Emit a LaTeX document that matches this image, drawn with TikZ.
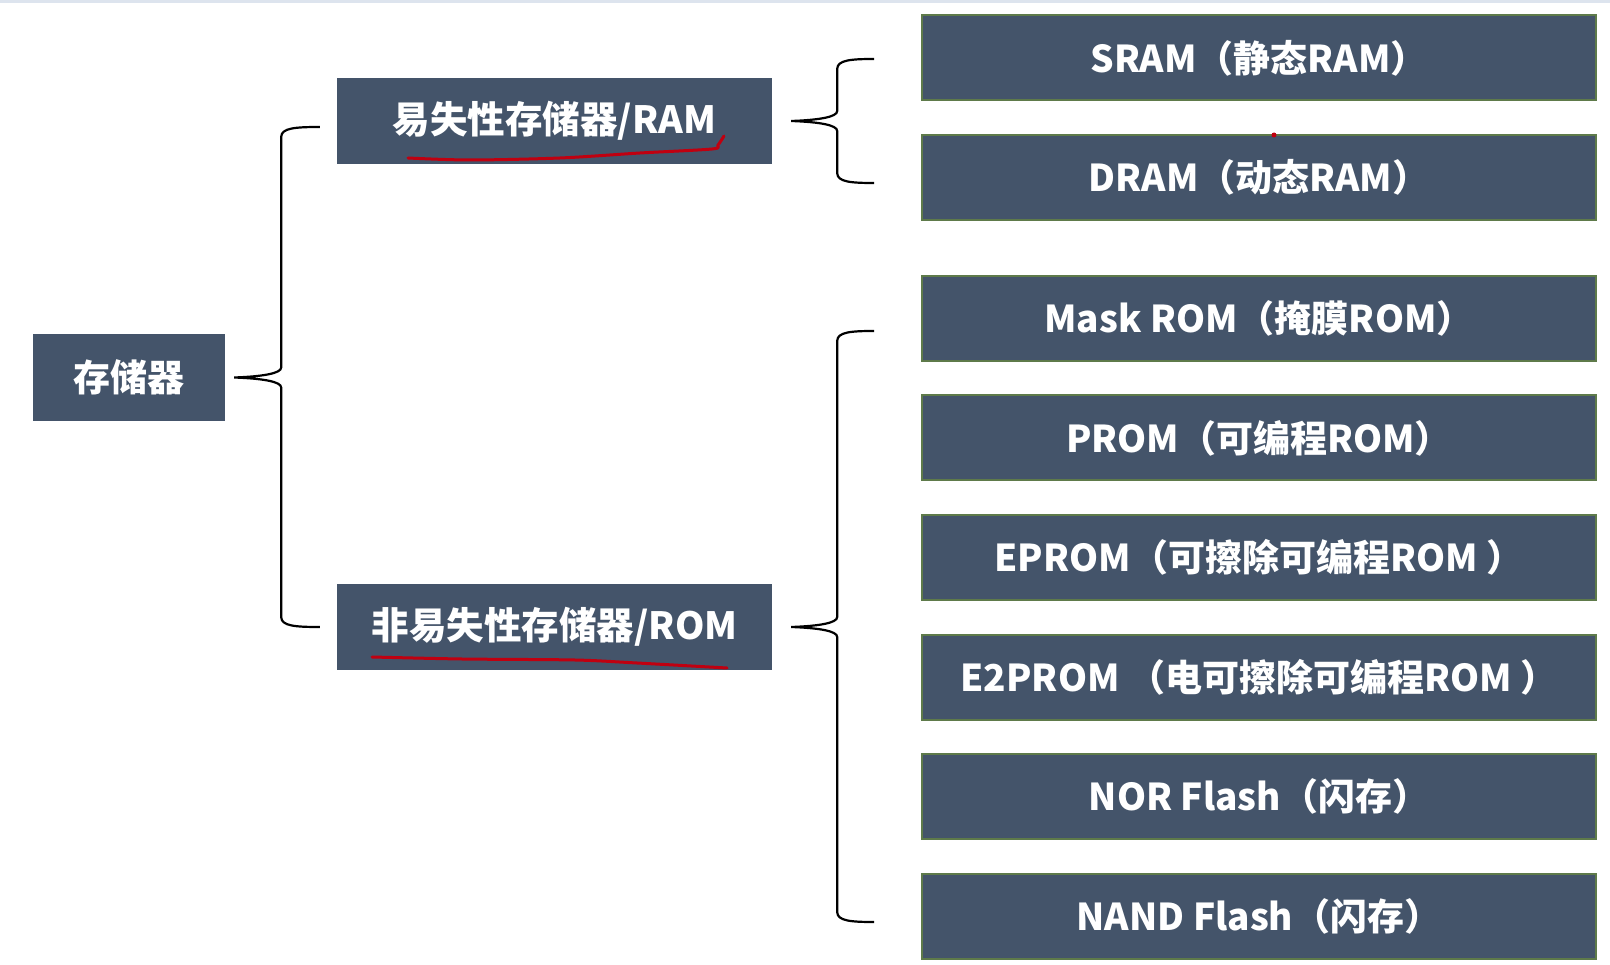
\documentclass[tikz,border=0pt]{standalone}
\usepackage{fontspec}
\newfontfamily\cjk{Noto Sans CJK SC}
\usetikzlibrary{calc}
\definecolor{boxfill}{HTML}{44546A}
\definecolor{boxedge}{HTML}{5E7A4A}
\definecolor{pen}{HTML}{C00010}
\definecolor{topband}{HTML}{DDE4EE}
\tikzset{
  midbox/.style={fill=boxfill, draw=none, text=white, minimum height=86pt, inner sep=0pt,
    font=\cjk\bfseries\fontsize{37.5}{40}\selectfont},
  leafbox/.style={fill=boxfill, draw=boxedge, line width=2pt, text=white, minimum width=674pt,
    minimum height=85pt, inner sep=0pt, font=\cjk\bfseries\fontsize{37}{40}\selectfont},
  braceline/.style={draw=black, line width=2.2pt},
  redpen/.style={draw=pen, line width=3pt, line cap=round, line join=round},
}
\newcommand\curlybrace[4]{%
  \draw[braceline] let \p1=(#1), \p2=(#2), \p3=(#3), \n1={\x1+#4} in
    (\x2,\y2) .. controls (\n1+14pt,\y2) and (\n1,\y2-1pt) .. (\n1,\y2-10pt)
    -- (\n1,\y1+10pt) .. controls (\n1,\y1+4pt) and (\x1+28pt,\y1+1pt) .. (\x1,\y1)
    .. controls (\x1+28pt,\y1-1pt) and (\n1,\y1-4pt) .. (\n1,\y1-10pt)
    -- (\n1,\y3+10pt) .. controls (\n1,\y3+1pt) and (\n1+14pt,\y3) .. (\x3,\y3);
}
\begin{document}
\begin{tikzpicture}[x=1pt,y=-1pt]
\useasboundingbox (0,0) rectangle (1610,965);
\fill[white] (0,0) rectangle (1610,965);
\fill[topband] (0,0) rectangle (1610,3);

\node[midbox, minimum width=192pt, minimum height=87pt, font=\cjk\bfseries\fontsize{37}{40}\selectfont] (root) at (129,377.5) {存储器};
\node[midbox, minimum width=435pt] (ram) at (554.5,121) {易失性存储器/RAM};
\node[midbox, minimum width=435pt] (rom) at (554.5,627) {非易失性存储器/ROM};

\node[leafbox] (sram) at (1259,58) {SRAM（静态RAM）};
\node[leafbox] (dram) at (1259,177.5) {DRAM（动态RAM）};
\node[leafbox] (mask) at (1259,318.5) {Mask ROM（掩膜ROM）};
\node[leafbox] (prom) at (1259,438) {PROM（可编程ROM）};
\node[leafbox] (eprom) at (1259,557.5) {EPROM（可擦除可编程ROM ）};
\node[leafbox] (eeprom) at (1259,677) {E2PROM （电可擦除可编程ROM ）};
\node[leafbox] (nor) at (1259,796.5) {NOR Flash（闪存）};
\node[leafbox] (nand) at (1259,916) {NAND Flash（闪存）};

\coordinate (b1tip) at ([xshift=9pt]root.east);
\coordinate (b1top) at ([xshift=-17pt,yshift=-6pt]ram.west);
\coordinate (b1bot) at ([xshift=-17pt]rom.west);
\curlybrace{b1tip}{b1top}{b1bot}{47pt}

\coordinate (b2tip) at ([xshift=19pt]ram.east);
\coordinate (b2top) at ([xshift=-47pt,yshift=-1pt]sram.west);
\coordinate (b2bot) at ([xshift=-47pt,yshift=-5.5pt]dram.west);
\curlybrace{b2tip}{b2top}{b2bot}{46pt}

\coordinate (b3tip) at ([xshift=19pt]rom.east);
\coordinate (b3top) at ([xshift=-47pt,yshift=-12.5pt]mask.west);
\coordinate (b3bot) at ([xshift=-47pt,yshift=-6pt]nand.west);
\curlybrace{b3tip}{b3top}{b3bot}{46pt}

% hand-drawn red underlines
\draw[redpen] plot[smooth] coordinates {(408,158) (470,160) (560,158) (640,153) (712,149) (718,145) (724,136)};
\draw[redpen] plot[smooth] coordinates {(372,657) (462,659) (575,660) (637,663) (727,668)};
\fill[pen] (1274,135) circle (2.5);
\end{tikzpicture}
\end{document}
